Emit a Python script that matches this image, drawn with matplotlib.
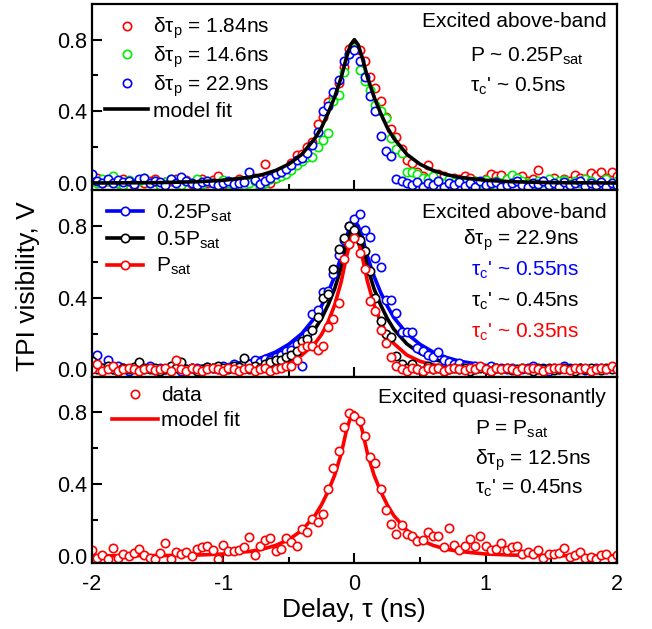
import numpy as np
import matplotlib
matplotlib.use('Agg')
import matplotlib.pyplot as plt
from matplotlib.lines import Line2D

plt.rcParams['font.family'] = ['Liberation Sans', 'DejaVu Sans']
plt.rcParams['mathtext.fontset'] = 'custom'
plt.rcParams['mathtext.rm'] = 'Liberation Sans'
plt.rcParams['mathtext.it'] = 'Liberation Sans'

# delay bins (ns)
delay = np.round(np.linspace(-2, 2, 101), 2)

# top panel: above-band, P ~ 0.25 Psat, three pulse separations
top_red = [0.02, 0.03, 0.0, 0.01, 0.025, 0.0, 0.02, 0.01, -0.01, 0.015,
           0.0, 0.01, 0.02, -0.01, 0.005, 0.01, 0.02, 0.0, 0.015, -0.005,
           0.01, 0.02, 0.0, 0.015, 0.04, 0.01, -0.01, 0.005, 0.02, 0.0,
           0.01, 0.03, 0.02, 0.105, 0.0, 0.03, 0.05, 0.06, 0.11, 0.155,
           0.16, 0.2, 0.23, 0.33, 0.37, 0.45, 0.486, 0.56, 0.65, 0.748,
           0.76, 0.74, 0.68, 0.594, 0.53, 0.458, 0.37, 0.30, 0.258, 0.19,
           0.13, 0.11, 0.06, 0.04, 0.1, 0.03, 0.05, 0.04, 0.01, 0.03,
           0.02, 0.04, 0.03, 0.01, 0.005, 0.02, 0.05, 0.04, 0.045, 0.02,
           0.005, 0.03, 0.04, 0.01, 0.02, 0.07, 0.01, 0.005, 0.03, 0.0,
           0.02, 0.01, 0.045, 0.03, 0.02, 0.055, 0.04, 0.06, 0.03, 0.06,
           0.04]
top_green = [0.01, 0.0, 0.02, 0.01, 0.04, 0.0, -0.01, 0.015, 0.0, 0.01,
             0.03, 0.0, 0.01, -0.01, 0.005, 0.02, 0.0, -0.01, 0.01, 0.0,
             0.02, -0.005, 0.01, 0.0, -0.01, 0.015, 0.0, -0.015, 0.01, -0.01,
             0.0, 0.01, -0.02, 0.0, 0.02, 0.03, 0.04, 0.05, 0.07, 0.1,
             0.12, 0.146, 0.146, 0.2, 0.24, 0.28, 0.46, 0.49, 0.62, 0.72,
             0.745, 0.63, 0.57, 0.52, 0.435, 0.40, 0.36, 0.25, 0.19, 0.17,
             0.06, 0.06, 0.05, 0.03, 0.02, 0.04, 0.01, 0.0, 0.02, 0.005,
             0.01, 0.0, -0.01, 0.01, 0.0, 0.015, -0.005, 0.01, 0.0, 0.02,
             0.045, 0.03, 0.01, 0.0, -0.01, 0.01, 0.005, 0.02, 0.0, 0.01,
             0.015, -0.005, 0.01, 0.0, 0.02, 0.01, -0.01, 0.005, 0.02, 0.0,
             0.01]
top_blue = [0.05, 0.01, 0.0, 0.02, 0.0, 0.015, 0.005, 0.01, -0.005, 0.02,
            0.03, 0.0, 0.01, 0.005, -0.01, 0.02, 0.0, 0.035, 0.01, 0.0,
            -0.01, 0.005, 0.01, 0.0, -0.01, 0.0, 0.01, -0.005, 0.0, 0.005,
            0.06, 0.015, -0.005, 0.01, 0.03, 0.05, 0.06, 0.08, 0.1, 0.13,
            0.14, 0.165, 0.21, 0.286, 0.40, 0.43, 0.51, 0.575, 0.68, 0.72,
            0.74, 0.68, 0.59, 0.486, 0.40, 0.262, 0.18, 0.15, 0.025, 0.01,
            0.0, -0.01, 0.005, -0.02, 0.0, -0.01, 0.01, -0.02, 0.0, -0.01,
            0.005, -0.015, 0.0, -0.02, 0.01, -0.01, 0.0, 0.005, -0.02, -0.01,
            0.0, 0.01, -0.01, -0.02, 0.0, -0.005, 0.01, -0.01, 0.0, -0.02,
            0.005, -0.01, 0.0, 0.01, -0.015, 0.0, -0.01, 0.005, -0.02, 0.0,
            -0.01]

# middle panel: above-band, dtau_p = 22.9 ns, three powers
mid_blue = [0.02, 0.078, 0.01, 0.05, 0.0, 0.02, 0.01, -0.01, 0.005, 0.015,
            0.0, 0.02, -0.005, 0.01, 0.0, 0.005, 0.02, -0.01, 0.0, 0.01,
            0.005, 0.0, 0.015, 0.01, 0.0, 0.02, 0.01, 0.03, 0.02, 0.04,
            0.03, 0.05, 0.04, 0.06, 0.05, 0.07, 0.08, 0.1, 0.11, 0.14,
            0.02, 0.2, 0.31, 0.33, 0.43, 0.44, 0.53, 0.64, 0.72, 0.80,
            0.84, 0.866, 0.78, 0.74, 0.62, 0.57, 0.385, 0.385, 0.316, 0.21,
            0.21, 0.21, 0.12, 0.1, 0.08, 0.07, 0.097, 0.05, 0.04, 0.03,
            0.035, 0.02, 0.01, 0.02, 0.015, 0.0, 0.02, 0.01, 0.005, 0.0,
            0.01, -0.005, 0.0, 0.01, 0.02, 0.0, 0.005, -0.01, 0.01, 0.0,
            0.02, 0.005, 0.0, 0.01, -0.005, 0.0, 0.01, 0.005, 0.0, 0.01,
            0.0]
mid_black = [0.045, 0.0, 0.01, 0.02, 0.0, -0.01, 0.01, 0.0, 0.015, 0.04,
             0.005, 0.0, 0.01, -0.01, 0.0, 0.02, 0.01, 0.04, 0.0, 0.01,
             -0.01, 0.0, 0.015, 0.005, 0.02, 0.01, 0.0, 0.02, 0.015, 0.065,
             0.0, 0.02, 0.01, 0.03, 0.04, 0.05, 0.05, 0.07, 0.08, 0.1,
             0.16, 0.17, 0.22, 0.29, 0.40, 0.42, 0.56, 0.67, 0.735, 0.80,
             0.78, 0.72, 0.66, 0.55, 0.40, 0.27, 0.195, 0.18, 0.074, 0.03,
             0.01, 0.03, 0.0, -0.01, 0.02, 0.0, 0.01, -0.01, 0.0, 0.01,
             0.0, 0.005, -0.01, 0.0, 0.01, 0.0, -0.01, 0.005, 0.0, 0.01,
             -0.005, 0.0, 0.01, 0.0, -0.01, 0.005, 0.0, 0.01, -0.005, 0.0,
             0.01, 0.0, -0.01, 0.005, 0.0, 0.01, 0.0, -0.005, 0.01, 0.0,
             0.005]
mid_red = [0.0, 0.03, -0.01, 0.0, 0.02, -0.01, 0.0, 0.01, 0.0, -0.01,
           0.0, 0.01, -0.005, 0.0, 0.01, -0.01, 0.055, 0.0, -0.01, 0.005,
           0.0, -0.01, 0.0, 0.01, 0.0, -0.01, 0.005, 0.0, -0.01, 0.0,
           0.01, -0.01, 0.0, 0.005, -0.01, 0.0, 0.01, 0.02, 0.02, 0.05,
           0.12, 0.13, 0.13, 0.11, 0.13, 0.236, 0.28, 0.37, 0.615, 0.70,
           0.735, 0.65, 0.56, 0.38, 0.326, 0.22, 0.15, 0.07, 0.02, 0.0,
           -0.01, 0.01, 0.0, -0.01, 0.005, 0.0, 0.01, -0.01, 0.0, 0.005,
           0.0, -0.005, 0.01, 0.0, 0.02, 0.0, -0.01, 0.005, 0.0, 0.01,
           0.0, -0.01, 0.005, 0.0, 0.01, 0.0, -0.01, 0.0, 0.01, 0.005,
           0.0, -0.005, 0.01, 0.0, 0.005, -0.01, 0.0, 0.01, 0.0, 0.02,
           0.0]

# bottom panel: quasi-resonant
bot_red = [0.03, -0.01, 0.005, -0.02, 0.045, -0.01, 0.01, 0.0, 0.015, 0.04,
           0.005, -0.015, -0.02, 0.015, 0.07, -0.02, 0.02, 0.012, 0.02, 0.0,
           0.038, 0.05, 0.053, 0.035, -0.02, 0.06, 0.025, 0.025, 0.033, 0.05,
           0.104, 0.005, 0.056, 0.09, 0.097, 0.025, 0.04, 0.10, 0.075, 0.055,
           0.15, 0.13, 0.207, 0.19, 0.233, 0.37, 0.49, 0.585, 0.72, 0.795,
           0.78,
           0.75, 0.67, 0.55, 0.52, 0.37, 0.255, 0.18, 0.12, 0.17, 0.12,
           0.11, 0.08, 0.09, 0.13, 0.11, 0.11, 0.05, 0.155, 0.06, 0.03,
           0.055, 0.095, 0.055, 0.108, 0.055, 0.03, 0.04, 0.07, 0.035, 0.05,
           0.055, 0.01, 0.02, 0.01, 0.03, -0.01, 0.01, 0.01, 0.015, 0.045,
           -0.005, 0.005, 0.02, -0.01, -0.005, -0.02, 0.005, 0.01, -0.02, 0.005]

# model fits
fit_delay = [-2.0, -1.5, -1.2, -1.0, -0.8, -0.7, -0.6, -0.5, -0.4, -0.3, -0.25,
             -0.2, -0.15, -0.1, -0.06, -0.03, 0.0, 0.03, 0.06, 0.1, 0.15, 0.2,
             0.25, 0.3, 0.4, 0.5, 0.6, 0.7, 0.8, 1.0, 1.2, 1.5, 2.0]
fit_top = [0.0, 0.002, 0.007, 0.015, 0.032, 0.047, 0.07, 0.105, 0.16, 0.25, 0.31,
           0.39, 0.48, 0.59, 0.70, 0.77, 0.80, 0.77, 0.70, 0.59, 0.48, 0.39,
           0.31, 0.25, 0.16, 0.105, 0.07, 0.047, 0.032, 0.015, 0.007, 0.002, 0.0]
fit_blue = [0.0, 0.004, 0.011, 0.022, 0.046, 0.067, 0.097, 0.14, 0.20, 0.29, 0.355,
            0.43, 0.52, 0.63, 0.74, 0.80, 0.83, 0.80, 0.74, 0.63, 0.52, 0.43,
            0.355, 0.29, 0.20, 0.14, 0.097, 0.067, 0.046, 0.022, 0.011, 0.004, 0.0]
fit_black = [0.0, 0.001, 0.004, 0.01, 0.024, 0.037, 0.058, 0.09, 0.142, 0.225, 0.285,
             0.36, 0.45, 0.57, 0.70, 0.77, 0.80, 0.77, 0.70, 0.57, 0.45, 0.36,
             0.285, 0.225, 0.142, 0.09, 0.058, 0.037, 0.024, 0.01, 0.004, 0.001, 0.0]
fit_red = [0.0, 0.0, 0.001, 0.003, 0.008, 0.014, 0.025, 0.045, 0.08, 0.145, 0.195,
           0.265, 0.36, 0.49, 0.63, 0.71, 0.74, 0.71, 0.63, 0.49, 0.36, 0.265,
           0.195, 0.145, 0.08, 0.045, 0.025, 0.014, 0.008, 0.003, 0.001, 0.0, 0.0]
fit_bot = fit_black

RED, GREEN, BLUE, BLACK = '#ff0000', '#00ee00', '#0000ff', '#000000'
FS = 15
mk = dict(ls='none', marker='o', ms=6, mew=1.2, mfc='white')
leg_kw = dict(loc='upper left', frameon=False, fontsize=FS, borderpad=0,
              borderaxespad=0, numpoints=1)

fig, axes = plt.subplots(3, 1, sharex=True, figsize=(6.52, 6.29), dpi=100)
fig.subplots_adjust(left=0.141, right=0.946, top=0.994, bottom=0.105, hspace=0)
ax1, ax2, ax3 = axes

# top
ax1.plot(delay, top_red, mec=RED, **mk)
ax1.plot(delay, top_green, mec=GREEN, **mk)
ax1.plot(delay, top_blue, mec=BLUE, **mk)
ax1.plot(fit_delay, fit_top, color=BLACK, lw=2.6)
h1 = [Line2D([], [], mec=RED, **mk), Line2D([], [], mec=GREEN, **mk),
      Line2D([], [], mec=BLUE, **mk), Line2D([], [], color=BLACK, lw=2.6)]
l1 = [r'δτ$_\mathregular{p}$ = 1.84ns', r'δτ$_\mathregular{p}$ = 14.6ns',
      r'δτ$_\mathregular{p}$ = 22.9ns', 'model fit']
ax1.legend(h1, l1, bbox_to_anchor=(0.025, 0.935), handlelength=2.07,
           handletextpad=0.25, labelspacing=0.15, **leg_kw)
ax1.text(0.98, 0.878, 'Excited above-band', transform=ax1.transAxes, ha='right',
         va='baseline', fontsize=FS)
ax1.text(0.72, 0.69, r'P ~ 0.25P$_\mathregular{sat}$', transform=ax1.transAxes,
         va='baseline', fontsize=FS)
ax1.text(0.72, 0.529, r"τ$_\mathregular{c}$' ~ 0.5ns", transform=ax1.transAxes,
         va='baseline', fontsize=FS)

# middle
ax2.plot(fit_delay, fit_blue, color=BLUE, lw=2.6)
ax2.plot(fit_delay, fit_black, color=BLACK, lw=2.6)
ax2.plot(fit_delay, fit_red, color=RED, lw=2.6)
ax2.plot(delay, mid_blue, mec=BLUE, **mk)
ax2.plot(delay, mid_black, mec=BLACK, **mk)
ax2.plot(delay, mid_red, mec=RED, **mk)
h2 = [Line2D([], [], color=c, lw=2.6, marker='o', ms=6, mew=1.2, mfc='white', mec=c)
      for c in (BLUE, BLACK, RED)]
l2 = [r'0.25P$_\mathregular{sat}$', r'0.5P$_\mathregular{sat}$', r'P$_\mathregular{sat}$']
ax2.legend(h2, l2, bbox_to_anchor=(0.029, 0.935), handlelength=1.7,
           handletextpad=0.65, labelspacing=0.27, **leg_kw)
ax2.text(0.98, 0.85, 'Excited above-band', transform=ax2.transAxes, ha='right',
         va='baseline', fontsize=FS)
ax2.text(0.928, 0.707, r'δτ$_\mathregular{p}$ = 22.9ns', transform=ax2.transAxes,
         ha='right', va='baseline', fontsize=FS)
for yy, c, s in [(0.542, BLUE, '0.55'), (0.376, BLACK, '0.45'), (0.206, RED, '0.35')]:
    ax2.text(0.928, yy, r"τ$_\mathregular{c}$' ~ " + s + 'ns', transform=ax2.transAxes,
             ha='right', va='baseline', fontsize=FS, color=c)

# bottom
ax3.plot(fit_delay, fit_bot, color=RED, lw=2.6)
ax3.plot(delay, bot_red, mec=RED, **mk)
h3 = [Line2D([], [], mec=RED, **mk), Line2D([], [], color=RED, lw=2.6)]
ax3.legend(h3, ['data', 'model fit'], bbox_to_anchor=(0.038, 0.95),
           handlelength=2.2, handletextpad=0.15, labelspacing=0.3, **leg_kw)
ax3.text(0.98, 0.857, 'Excited quasi-resonantly', transform=ax3.transAxes, ha='right',
         va='baseline', fontsize=FS)
ax3.text(0.73, 0.687, r'P = P$_\mathregular{sat}$', transform=ax3.transAxes,
         va='baseline', fontsize=FS)
ax3.text(0.73, 0.526, r'δτ$_\mathregular{p}$ = 12.5ns', transform=ax3.transAxes,
         va='baseline', fontsize=FS)
ax3.text(0.73, 0.374, r"τ$_\mathregular{c}$' = 0.45ns", transform=ax3.transAxes,
         va='baseline', fontsize=FS)

for ax in axes:
    ax.set_xlim(-2, 2)
    ax.set_ylim(-0.04, 1.0)
    ax.set_yticks([0.0, 0.4, 0.8])
    ax.set_yticks([0.2, 0.6], minor=True)
    ax.set_yticklabels(['0.0', '0.4', '0.8'])
    ax.set_xticks([-2, -1, 0, 1, 2])
    ax.set_xticks([-1.5, -0.5, 0.5, 1.5], minor=True)
    ax.tick_params(which='both', direction='in', top=False, right=False,
                   width=1.5, labelsize=15.5)
    ax.tick_params(which='major', length=7)
    ax.tick_params(which='minor', length=4)
    for sp in ax.spines.values():
        sp.set_linewidth(1.6)

ax3.set_xticklabels(['-2', '-1', '0', '1', '2'])
ax3.tick_params(axis='x', pad=8)
ax3.set_xlabel('Delay, τ (ns)', fontsize=19, labelpad=2)
fig.text(0.043, 0.545, 'TPI visibility, V', rotation=90, ha='center', va='center',
         fontsize=19)

fig.savefig('out.png', dpi=100)
